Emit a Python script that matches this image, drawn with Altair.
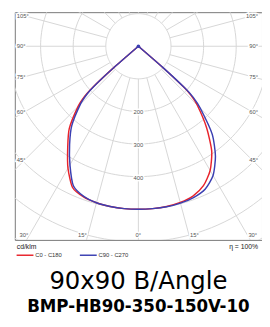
import altair as alt
import pandas as pd
import numpy as np

# ---- data (cd/klm) ----
ANGLES = [0, 5, 10, 15, 20, 25, 30, 35, 40, 45, 47, 48, 49, 50, 60, 75, 90]
C0   = [500, 500, 499, 496, 489, 472, 440, 392, 325, 255, 220, 186, 98, 0, 0, 0, 0]   # red, right
C180 = [500, 500, 499, 497, 492, 478, 432, 378, 330, 262, 225, 190, 100, 0, 0, 0, 0]  # red, left
C90  = [500, 500, 500, 498, 494, 484, 458, 412, 352, 268, 230, 194, 100, 0, 0, 0, 0]  # blue, right
C270 = [500, 500, 499, 497, 490, 472, 420, 368, 318, 252, 216, 182, 95, 0, 0, 0, 0]   # blue, left
SERIES = ["C0 - C180", "C90 - C270"]
COLORS = ["#e8232b", "#3b3fb2"]
RINGS = [100, 200, 300, 400, 500, 600, 700]
RING_LABELS = [200, 300, 400]
SPOKES = list(range(0, 360, 15))
SIDE_LABELS = [105, 90, 75, 60, 45]
BOTTOM_LABELS = [30, 15, 0]
UNIT = "cd/klm"
EFF = "η = 100%"
TITLE = "90x90 B/Angle"
SUBTITLE = "BMP-HB90-350-150V-10"

# ---- geometry of the frame ----
K = 0.335            # px per cd/klm
W, H = 254, 234      # plot frame in px
CXP, CYP = 127, 35   # pole position inside frame (px)
XMIN, XMAX = -CXP / K, (W - CXP) / K
YMAX, YMIN = CYP / K, -(H - CYP) / K

rows = []
for name, left, right in [(SERIES[0], C180, C0), (SERIES[1], C270, C90)]:
    for a, v in zip(ANGLES, left):
        rows.append({"series": name, "side": "L", "phi": -a, "I": v})
    for a, v in zip(ANGLES, right):
        rows.append({"series": name, "side": "R", "phi": a, "I": v})
curves = pd.DataFrame(rows)

ring_rows = []
for r in RINGS:
    for i, t in enumerate(np.arange(0, 361, 2)):
        ring_rows.append({"r": r, "i": i, "t": float(t)})
rings = pd.DataFrame(ring_rows)
spokes = pd.DataFrame({"t": SPOKES, "r0": 100, "r1": 1200})

# angle labels
lab = []
for a in SIDE_LABELS:
    s, c = np.sin(np.radians(a)), np.cos(np.radians(a))
    xl = -XMIN - 10 / K
    r = xl / s
    yv = -r * c
    lab.append({"txt": f"{a}°", "x": XMIN + 2 / K, "y": yv, "al": "left"})
    lab.append({"txt": f"{a}°", "x": XMAX - 4 / K, "y": yv, "al": "right"})
yb = YMIN + 5 / K
for a in BOTTOM_LABELS:
    s, c = np.sin(np.radians(a)), np.cos(np.radians(a))
    r = -yb / c
    if a == 0:
        lab.append({"txt": "0°", "x": 0.0, "y": yb, "al": "center"})
    else:
        lab.append({"txt": f"{a}°", "x": -r * s - 1 / K, "y": yb, "al": "right"})
        lab.append({"txt": f"{a}°", "x": r * s + 1 / K, "y": yb, "al": "left"})
for v in RING_LABELS:
    lab.append({"txt": str(v), "x": 0.0, "y": -v - 3, "al": "center"})
labels = pd.DataFrame(lab)

notes = pd.DataFrame([
    {"txt": UNIT, "x": XMIN + 2 / K, "y": YMIN - 7 / K, "al": "left"},
    {"txt": EFF, "x": XMAX - 4 / K, "y": YMIN - 7 / K, "al": "right"},
])

xs = alt.Scale(domain=[XMIN, XMAX], nice=False, zero=False)
ys = alt.Scale(domain=[YMIN, YMAX], nice=False, zero=False)
GRID = "#d6d6d6"

ring_layer = alt.Chart(rings).transform_calculate(
    x="datum.r * sin(datum.t * PI / 180)",
    y="-datum.r * cos(datum.t * PI / 180)",
).mark_line(clip=True, color=GRID, strokeWidth=1).encode(
    x=alt.X("x:Q", scale=xs, axis=None),
    y=alt.Y("y:Q", scale=ys, axis=None),
    detail="r:N",
    order="i:Q",
)

spoke_layer = alt.Chart(spokes).transform_calculate(
    x="datum.r0 * sin(datum.t * PI / 180)",
    y="-datum.r0 * cos(datum.t * PI / 180)",
    x2="datum.r1 * sin(datum.t * PI / 180)",
    y2="-datum.r1 * cos(datum.t * PI / 180)",
).mark_rule(clip=True, color=GRID, strokeWidth=1).encode(
    x=alt.X("x:Q", scale=xs, axis=None),
    y=alt.Y("y:Q", scale=ys, axis=None),
    x2="x2:Q",
    y2="y2:Q",
)

def text_layers(df, size, color, font="Liberation Sans"):
    out = []
    for al in ["left", "center", "right"]:
        base = alt.Chart(df).transform_filter(f"datum.al == '{al}'")
        enc = dict(x=alt.X("x:Q", scale=xs, axis=None), y=alt.Y("y:Q", scale=ys, axis=None), text="txt:N")
        out.append(base.mark_text(align=al, baseline="middle", fontSize=size, font=font,
                                  stroke="white", strokeWidth=3, color="white").encode(**enc))
        out.append(base.mark_text(align=al, baseline="middle", fontSize=size, font=font,
                                  color=color).encode(**enc))
    return out

curve_layer = alt.Chart(curves).transform_filter(
    "abs(datum.phi) <= 50 && !(datum.side == 'L' && datum.phi == 0)"
).transform_calculate(
    x="datum.I * sin(datum.phi * PI / 180)",
    y="-datum.I * cos(datum.phi * PI / 180)",
).mark_line(strokeWidth=1.5, clip=True, interpolate="cardinal", tension=0.35).encode(
    x=alt.X("x:Q", scale=xs, axis=None),
    y=alt.Y("y:Q", scale=ys, axis=None),
    color=alt.Color("series:N", scale=alt.Scale(domain=SERIES, range=COLORS),
                    legend=alt.Legend(orient="none", legendX=1, legendY=240, direction="horizontal",
                                      title=None, symbolType="stroke", symbolSize=300,
                                      symbolStrokeWidth=1.5, labelFontSize=6,
                                      labelFont="Liberation Sans", labelColor="#333",
                                      labelOffset=1, columnPadding=14, padding=0)),
    order="phi:Q",
)

pole = alt.Chart(curves).transform_filter("datum.series == 'C90 - C270' && datum.phi == 90").transform_calculate(
    x="datum.I * sin(datum.phi * PI / 180)",
    y="-datum.I * cos(datum.phi * PI / 180)",
).mark_point(filled=True, size=14, color=COLORS[1], opacity=1).encode(
    x=alt.X("x:Q", scale=xs, axis=None),
    y=alt.Y("y:Q", scale=ys, axis=None),
)

note_layers = []
for al in ["left", "right"]:
    note_layers.append(alt.Chart(notes).transform_filter(f"datum.al == '{al}'").mark_text(
        align=al, baseline="middle", fontSize=7, font="Liberation Sans", color="#222").encode(
        x=alt.X("x:Q", scale=xs, axis=None), y=alt.Y("y:Q", scale=ys, axis=None), text="txt:N"))

chart = alt.layer(
    ring_layer, spoke_layer, *text_layers(labels, 6, "#555"), curve_layer, pole, *note_layers
).properties(
    width=W, height=H,
    padding={"left": 7, "top": 0, "right": 0, "bottom": 78},
    autosize=alt.AutoSizeParams(type="none"),
    title=alt.TitleParams(
        text=TITLE, subtitle=SUBTITLE, orient="bottom", anchor="middle", frame="group",
        offset=11, font="DejaVu Sans", fontSize=25, fontWeight="normal", color="black",
        subtitleFont="'Liberation Sans Narrow', 'DejaVu Sans Condensed', 'Roboto Condensed', Roboto, sans-serif",
        subtitleFontSize=19, subtitleFontWeight="bold",
        subtitleColor="black", subtitlePadding=4,
    ),
).configure_view(stroke="#777", strokeWidth=1)

chart.save("out.html", embed_options={"renderer": "svg", "actions": False})
